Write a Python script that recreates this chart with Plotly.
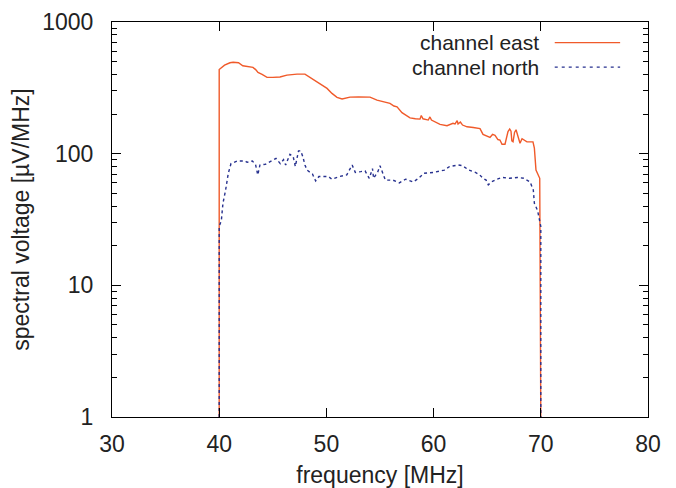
import plotly.graph_objects as go

east_freq = [40.0, 40.0, 40.5, 41.0, 41.3, 41.8, 42.2, 42.7, 43.15, 43.4, 43.62, 44.0, 44.46, 45.0, 45.67,
             46.32, 46.8, 47.26, 48.0, 48.47, 48.8, 49.12, 49.6, 50.06, 50.52, 50.99, 51.46, 52.2, 53.0,
             54.07, 54.72, 55.3, 55.93, 56.3, 56.59, 57.05, 57.4, 57.8, 58.3, 58.73, 58.85, 59.01, 59.5,
             59.66, 59.8, 60.32, 60.6, 61.25, 61.81, 62.0, 62.2, 62.28, 62.5, 62.7, 63.12, 63.7, 64.33,
             64.61, 65.0, 65.26, 65.5, 65.73, 66.0, 66.19, 66.38, 66.66, 66.94, 67.1, 67.22, 67.3, 67.41,
             67.55, 67.69, 67.87, 68.0, 68.06, 68.25, 68.5, 68.71, 69.27, 69.4, 69.55, 69.74, 69.9, 70.0]
east_val = [1, 436, 470, 490, 495, 490, 465, 455, 452, 435, 414, 400, 380, 380, 382,
            395, 400, 402, 402, 380, 362, 348, 330, 313, 287, 268, 260, 269, 270,
            269, 255, 248, 241, 230, 227, 205, 195, 187, 184, 183, 195, 184, 180,
            190, 180, 170, 167, 163, 170, 168, 178, 168, 174, 165, 160, 158, 155,
            140, 136, 133, 140, 138, 128, 127, 118, 118, 147, 154, 148, 125, 123,
            145, 152, 135, 125, 120, 130, 125, 123, 123, 110, 75, 70, 65, 1]

north_freq = [40.0, 40.0, 40.2, 40.35, 40.6, 40.85, 41.1, 41.7, 42.4, 42.6, 43.1, 43.4, 43.6, 43.8, 44.3,
              45.3, 45.7, 46.0, 46.2, 46.6, 46.9, 47.1, 47.4, 47.6, 47.8, 48.0, 48.2, 48.7, 49.0, 49.3,
              50.2, 50.5, 51.2, 51.9, 52.4, 52.7, 53.2, 53.6, 54.0, 54.3, 54.4, 54.8, 55.0, 55.3, 55.5,
              56.2, 56.8, 57.4, 58.1, 58.6, 59.1, 60.0, 61.0, 61.5, 62.3, 62.7, 63.3, 63.9, 64.3, 64.6,
              64.9, 65.1, 65.4, 65.9, 66.4, 67.1, 67.8, 68.4, 69.0, 69.3, 69.4, 69.7, 69.9, 70.0, 70.0]
north_val = [1, 28, 31, 42, 53, 71, 84, 88, 88, 86, 88, 82, 69, 82, 83,
             92, 84, 90, 82, 99, 95, 80, 105, 105, 95, 82, 75, 70, 62, 67,
             67, 64, 67, 69, 82, 72, 73, 74, 65, 77, 65, 73, 81, 71, 63,
             63, 60, 64, 61, 65, 71, 72, 75, 80, 82, 81, 75, 72, 69, 65,
             63, 58, 61, 64, 66, 65, 66, 65, 61, 53, 42, 37, 31, 28, 1]

x_ticks = [30, 40, 50, 60, 70, 80]
y_ticks = [1, 10, 100, 1000]
y_tick_text = ["1", "10", "100", "1000"]

legend_names = ["channel east", "channel north"]
east_color = "#f05a2a"
north_color = "#27318f"
font_family = "Liberation Sans, Arial, sans-serif"
text_color = "#222222"
fs = 23
legend_fs = 21

fig = go.Figure()
fig.add_trace(go.Scatter(x=east_freq, y=east_val, mode="lines", name=legend_names[0],
                         line=dict(color=east_color, width=1.4), showlegend=False))
fig.add_trace(go.Scatter(x=north_freq, y=north_val, mode="lines", name=legend_names[1],
                         line=dict(color=north_color, width=1.4, dash="3px,3px"), showlegend=False))

# manual legend (text left of sample line)
leg_y = [0.948, 0.886]
leg_colors = [east_color, north_color]
leg_dash = ["solid", "3px,4px"]
for name, yy, col, dsh in zip(legend_names, leg_y, leg_colors, leg_dash):
    fig.add_annotation(x=0.80, y=yy, xref="paper", yref="paper", text=name, showarrow=False,
                       xanchor="right", yanchor="middle",
                       font=dict(family=font_family, size=legend_fs, color=text_color))
    fig.add_shape(type="line", xref="paper", yref="paper", x0=0.826, x1=0.948, y0=yy, y1=yy,
                  line=dict(color=col, width=1.2, dash=dsh))

fig.update_layout(
    width=668, height=480,
    margin=dict(l=104, r=28, t=14, b=71),
    paper_bgcolor="white", plot_bgcolor="white",
    font=dict(family=font_family, size=fs, color=text_color),
    xaxis=dict(range=[30, 80], tickvals=x_ticks, ticks="inside", ticklen=9, tickcolor="black",
               showline=True, linecolor="black", linewidth=1.2, mirror="ticks", showgrid=False,
               zeroline=False, ticklabelstandoff=6, automargin=False,
               title=dict(text="frequency [MHz]", standoff=14, font=dict(size=fs))),
    yaxis=dict(type="log", range=[0, 3], tickvals=y_ticks, ticktext=y_tick_text, ticks="inside",
               ticklen=9, tickcolor="black", showline=True, linecolor="black", linewidth=1.2,
               mirror="ticks", showgrid=False, zeroline=False, ticklabelstandoff=13, automargin=False,
               minor=dict(ticks="inside", ticklen=5, tickcolor="black", dtick="D1", showgrid=False),
               title=dict(text="spectral voltage [µV/MHz]", standoff=6, font=dict(size=fs))),
)

fig.write_html("out.html")
